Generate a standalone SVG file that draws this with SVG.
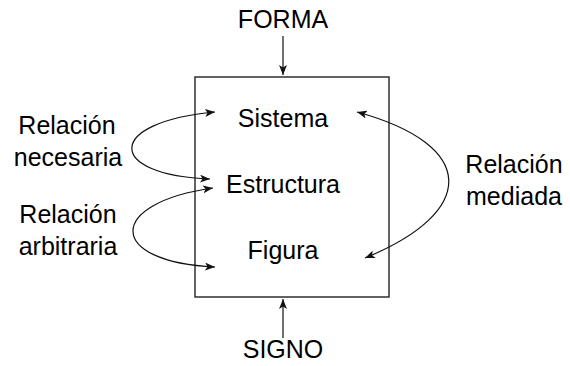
<svg xmlns="http://www.w3.org/2000/svg" width="570" height="366" viewBox="0 0 570 366">
<style>
text{font-family:"Liberation Sans","Open Sans",sans-serif;font-size:25px;fill:#000;text-anchor:middle}
.ln{fill:none;stroke:#111;stroke-width:1.2}
.box{fill:#fff;stroke:#222;stroke-width:1.4}
</style>
<defs>
<marker id="ah" viewBox="0 0 10 8" refX="10" refY="4" markerWidth="10" markerHeight="8" markerUnits="userSpaceOnUse" orient="auto-start-reverse">
<path d="M0,0 L10,4 L0,8 L2.5,4 Z" fill="#111"/>
</marker>
</defs>
<g id="box"><rect class="box" x="195" y="77" width="194" height="220"/></g>
<g id="forma"><text x="283" y="28">FORMA</text></g>
<g id="signo"><text x="283" y="358">SIGNO</text></g>
<g id="sistema"><text x="283" y="127">Sistema</text></g>
<g id="estructura"><text x="283" y="193">Estructura</text></g>
<g id="figura"><text x="283" y="259">Figura</text></g>
<g id="rel-necesaria"><text x="67" y="134">Relación</text><text x="68" y="166">necesaria</text></g>
<g id="rel-arbitraria"><text x="68" y="223">Relación</text><text x="68" y="255">arbitraria</text></g>
<g id="rel-mediada"><text x="514" y="173">Relación</text><text x="514" y="205">mediada</text></g>
<g id="connectors">
<path class="ln" d="M283,36 L283,75" marker-end="url(#ah)"/>
<path class="ln" d="M283,338 L283,299" marker-end="url(#ah)"/>
<path class="ln" d="M215,112 C105,122 105,175 210,179" marker-start="url(#ah)" marker-end="url(#ah)"/>
<path class="ln" d="M213,188 C106,203 106,262 215,267" marker-start="url(#ah)" marker-end="url(#ah)"/>
<path class="ln" d="M357,112 C478,145 478,212 365,258" marker-start="url(#ah)" marker-end="url(#ah)"/>
</g>
</svg>
